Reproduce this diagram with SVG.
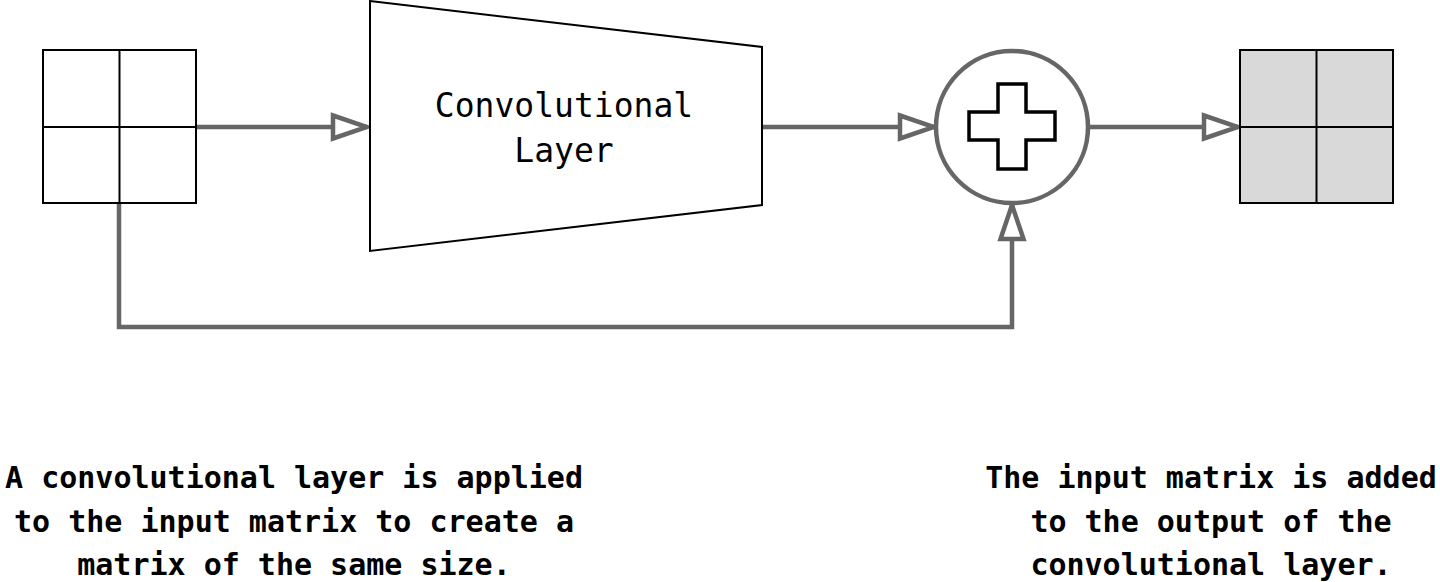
<svg xmlns="http://www.w3.org/2000/svg" width="1440" height="582" viewBox="0 0 1440 582">
<style>
.grid{fill:none;stroke:#000;stroke-width:2}
.conn{fill:none;stroke:#666;stroke-width:4.5}
.lbl{font-family:"DejaVu Sans Mono","Liberation Mono",monospace;font-size:33px;fill:#000;text-anchor:middle}
.cap{font-family:"DejaVu Sans Mono","Liberation Mono",monospace;font-size:30px;font-weight:bold;fill:#000;text-anchor:middle}
</style>
<defs>
<marker id="arr" viewBox="0 0 40 30" refX="37" refY="15" markerWidth="40" markerHeight="30" markerUnits="userSpaceOnUse" orient="auto">
<path d="M3,3.5 L37,15 L3,26.5 Z" fill="#fff" stroke="#666" stroke-width="4.5" stroke-linejoin="miter"/>
</marker>
</defs>
<rect width="1440" height="582" fill="#fff"/>
<g id="connectors">
<path class="conn" d="M196,127 H367" marker-end="url(#arr)"/>
<path class="conn" d="M763,127 H934" marker-end="url(#arr)"/>
<path class="conn" d="M1090,127 H1238" marker-end="url(#arr)"/>
<path class="conn" d="M119,203 V327 H1012 V205" marker-end="url(#arr)"/>
</g>
<g id="input-matrix">
<rect class="grid" x="43" y="50" width="153" height="153" fill="#fff"/>
<line class="grid" x1="119.5" y1="50" x2="119.5" y2="203"/>
<line class="grid" x1="43" y1="127" x2="196" y2="127"/>
</g>
<g id="conv-layer">
<polygon points="370,1 762,47 762,205 370,251" fill="#fff" stroke="#000" stroke-width="2"/>
<text class="lbl" x="564" y="117">Convolutional</text>
<text class="lbl" x="564" y="162">Layer</text>
</g>
<g id="add">
<circle cx="1012" cy="127" r="76" fill="#fff" stroke="#666" stroke-width="4.5"/>
<path d="M998,84 H1026 V112 H1055 V140 H1026 V169 H998 V140 H969 V112 H998 Z" fill="#fff" stroke="#000" stroke-width="3.5"/>
</g>
<g id="output-matrix">
<rect x="1240" y="50" width="153" height="153" fill="#d9d9d9" stroke="#000" stroke-width="2"/>
<line class="grid" x1="1316.5" y1="50" x2="1316.5" y2="203"/>
<line class="grid" x1="1240" y1="127" x2="1393" y2="127"/>
</g>
<g id="caption-left">
<text class="cap" x="294" y="488">A convolutional layer is applied</text>
<text class="cap" x="294" y="532">to the input matrix to create a</text>
<text class="cap" x="294" y="575">matrix of the same size.</text>
</g>
<g id="caption-right">
<text class="cap" x="1211" y="488">The input matrix is added</text>
<text class="cap" x="1211" y="532">to the output of the</text>
<text class="cap" x="1211" y="575">convolutional layer.</text>
</g>
</svg>
